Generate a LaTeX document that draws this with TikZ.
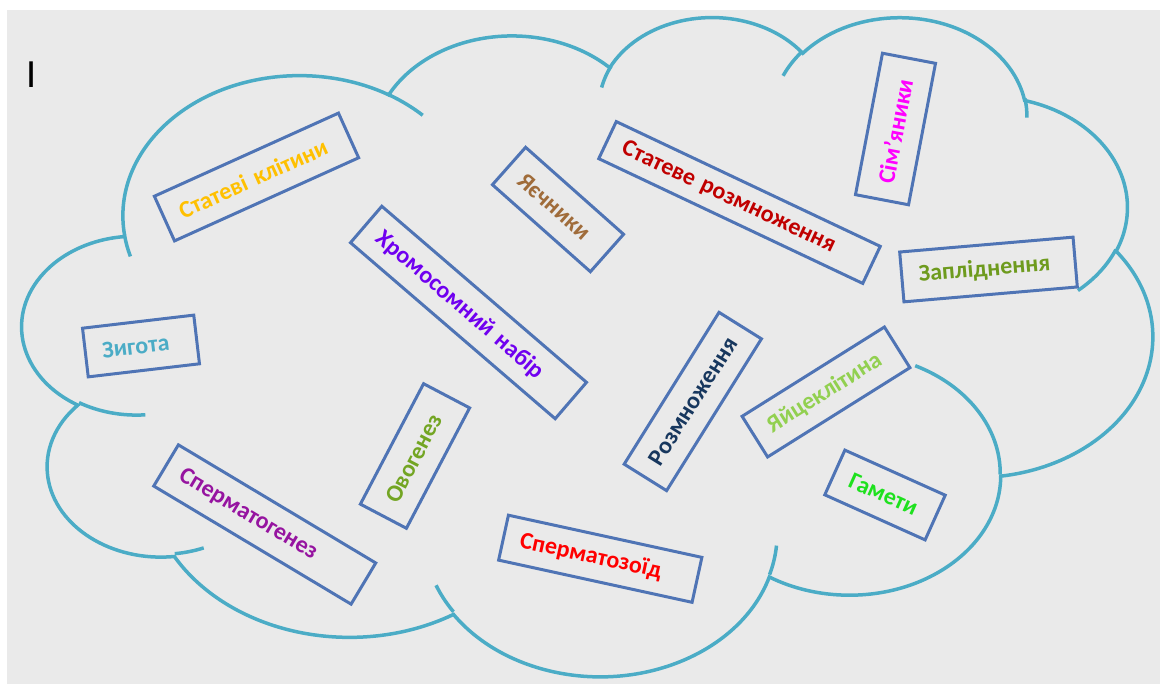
\documentclass[tikz,border=0pt]{standalone}
\usepackage{fontspec}
\setmainfont{Carlito}
\definecolor{cloudteal}{RGB}{75,172,198}
\definecolor{boxblue}{RGB}{79,116,181}
\definecolor{slidegray}{RGB}{234,234,234}
\definecolor{cgold}{RGB}{255,192,0}
\definecolor{cbrown}{RGB}{160,108,58}
\definecolor{cviolet}{RGB}{112,0,240}
\definecolor{cdarkred}{RGB}{192,0,0}
\definecolor{cmagenta}{RGB}{255,0,255}
\definecolor{colive}{RGB}{110,155,30}
\definecolor{cgreen}{RGB}{115,165,35}
\definecolor{cnavy}{RGB}{23,55,94}
\definecolor{clightgreen}{RGB}{146,208,80}
\definecolor{cbright}{RGB}{30,225,30}
\definecolor{cpurple}{RGB}{150,20,160}
\definecolor{cred}{RGB}{255,0,0}
\begin{document}
\begin{tikzpicture}[x=.5pt,y=-.5pt,
  cloudline/.style={draw=cloudteal,line width=1.75pt},
  term/.style={draw=boxblue,line width=1.5pt,inner xsep=8.5pt,inner ysep=0pt,
    align=left,font=\bfseries\fontsize{12}{14}\selectfont}]
  \useasboundingbox (0,0) rectangle (1160,684);
  \fill[white] (0,0) rectangle (1160,684);
  \fill[slidegray] (7,10) rectangle (1160,684);
  % cloud outline, one arc per lobe
  \draw[cloudline] (124.5,234.7)
    arc[start angle=-187.74,end angle=-59.65,x radius=176.6,y radius=140.2]
    arc[start angle=-152.04,end angle=-45.46,x radius=139.5,y radius=110.9]
    arc[start angle=-153.49,end angle=-37.33,x radius=114.2,y radius=90.7]
    arc[start angle=-139.71,end angle=-10.21,x radius=127.0,y radius=100.6]
    arc[start angle=-74.77,end angle=23.21,x radius=139.5,y radius=110.9]
    arc[start angle=-37.52,end angle=81.86,x radius=177.2,y radius=140.7]
    arc[start angle=0.46,end angle=121.98,x radius=151.3,y radius=120.0]
    arc[start angle=16.84,end angle=146.23,x radius=176.6,y radius=140.6]
    arc[start angle=59.01,end angle=150.19,x radius=201.9,y radius=160.8]
    arc[start angle=83.31,end angle=223.08,x radius=114.0,y radius=90.3]
    arc[start angle=120.35,end angle=264.11,x radius=113.7,y radius=90.7]
    -- cycle;
  % inner tails of the lobes
  \draw[cloudline] (145.3,414.8) arc[start angle=85.55,end angle=120.35,x radius=113.7,y radius=90.7];
  \draw[cloudline] (203.7,547.9) arc[start angle=68.26,end angle=83.31,x radius=114.0,y radius=90.3];
  \draw[cloudline] (453.5,611.8) arc[start angle=146.23,end angle=158.47,x radius=176.6,y radius=140.6];
  \draw[cloudline] (776.5,545.6) arc[start angle=4.74,end angle=16.84,x radius=176.6,y radius=140.6];
  \draw[cloudline] (915.2,365.7) arc[start angle=-64.03,end angle=0.46,x radius=151.3,y radius=120.0];
  \draw[cloudline] (1115.8,249.7) arc[start angle=23.21,end angle=49.65,x radius=139.5,y radius=110.9];
  \draw[cloudline] (1024.9,98.3) arc[start angle=-10.21,end angle=0.82,x radius=127.0,y radius=100.6];
  \draw[cloudline] (783.1,75.8) arc[start angle=-156.28,end angle=-139.71,x radius=127.0,y radius=100.6];
  \draw[cloudline] (601.6,87.5) arc[start angle=-167.73,end angle=-153.49,x radius=114.2,y radius=90.7];
  \draw[cloudline] (388.7,94.7) arc[start angle=-59.65,end angle=-45.74,x radius=176.6,y radius=140.2];
  \draw[cloudline] (130.4,256.4) arc[start angle=163.19,end angle=172.26,x radius=176.6,y radius=140.2];
  \node[font=\fontsize{20}{24}\selectfont,inner sep=0pt] (caret) at (32,75) {I};
  % terms
  \node[term,text=cgold,rotate=24.3,text width=84pt,minimum height=24.5pt] (statevi) at (256.5,177) {Статеві~клітини};
  \node[term,text=cbrown,rotate=-41.6,text width=48.5pt,minimum height=25pt] (yaiechnyky) at (558,209.5) {Яєчники};
  \node[term,text=cviolet,rotate=-40.7,text width=118pt,minimum height=24pt] (khromosom) at (468.5,312.5) {Хромосомний~набір};
  \node[term,text=cdarkred,rotate=-25.3,text width=129pt,minimum height=20.5pt] (stateve) at (739.5,202.5) {Статеве~розмноження};
  \node[term,text=cmagenta,rotate=79.2,text width=55pt,minimum height=27pt] (simianyky) at (895.5,129) {Сім’яники};
  \node[term,text=colive,rotate=4.9,text width=70pt,minimum height=25pt] (zaplidnennia) at (988.5,269.5) {Запліднення};
  \node[term,text=cloudteal,rotate=6.7,text width=39pt,minimum height=24.5pt] (zygota) at (141,346) {Зигота};
  \node[term,text=cgreen,rotate=62.3,text width=51pt,minimum height=26pt] (ovogenez) at (415,456) {Овогенез};
  \node[term,text=cnavy,rotate=58,text width=72.5pt,minimum height=25pt] (rozmnozhennia) at (692.8,401.5) {Розмноження};
  \node[term,text=clightgreen,rotate=32.1,text width=67pt,minimum height=24pt] (yaitse) at (826,392) {Яйцеклітина};
  \node[term,text=cbright,rotate=-24.2,text width=38pt,minimum height=24.5pt] (gamety) at (885,495) {Гамети};
  \node[term,text=cpurple,rotate=-30.9,text width=98pt,minimum height=24pt] (spermatogenez) at (264.75,524.5) {Сперматогенез};
  \node[term,text=cred,rotate=-12.3,text width=82pt,minimum height=23pt] (spermatozoid) at (600.25,558.75) {Сперматозоїд};
\end{tikzpicture}
\end{document}
